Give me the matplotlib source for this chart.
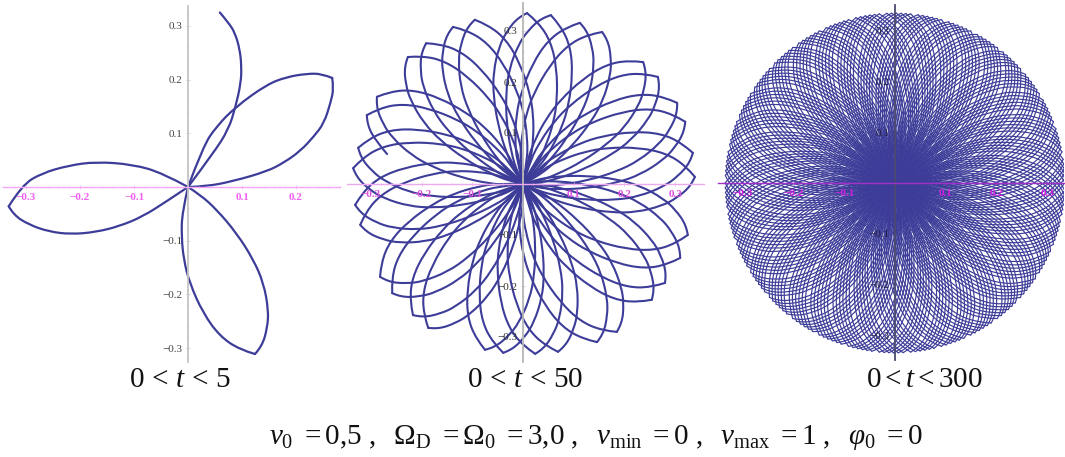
"""Three rosette trajectories (0<t<5, 0<t<50, 0<t<300) with the parameter line below."""

import numpy as np
import matplotlib
matplotlib.use("Agg")
import matplotlib.pyplot as plt
from matplotlib.path import Path
from matplotlib.patches import PathPatch

# Left panel
TOP_ARC_X = [0, 0.047, 0.075, 0.088, 0.098, 0.099, 0.096, 0.087, 0.075, 0.059]
TOP_ARC_Y = [0, 0.063, 0.107, 0.149, 0.194, 0.225, 0.256, 0.287, 0.306, 0.325]
RIGHT_LOBE_X = [0, 0.028, 0.053, 0.088, 0.146, 0.183, 0.22, 0.248, 0.267, 0.27, 0.264,
                0.252, 0.233, 0.208, 0.177, 0.146, 0.084, 0.034, 0]
RIGHT_LOBE_Y = [0, 0.076, 0.113, 0.149, 0.191, 0.205, 0.211, 0.211, 0.203, 0.184, 0.157,
                0.119, 0.094, 0.067, 0.045, 0.029, 0.011, 0.001, 0]
RIGHT_LOBE_TIP = 8
LEFT_LOBE_X = [0, -0.047, -0.102, -0.171, -0.221, -0.27, -0.307, -0.332, -0.323, -0.295,
               -0.258, -0.217, -0.171, -0.127, -0.084, -0.04, 0]
LEFT_LOBE_Y = [0, 0.026, 0.042, 0.047, 0.04, 0.026, 0.004, -0.036, -0.052, -0.07,
               -0.083, -0.088, -0.084, -0.073, -0.055, -0.027, 0]
LEFT_LOBE_TIP = 7
# bottom lobe: also the petal shape reused for the other two panels
PETAL_X = [0, -0.011, -0.012, -0.008, 0.003, 0.028, 0.059, 0.096, 0.124, 0.137, 0.147,
           0.149, 0.14, 0.121, 0.09, 0.053, 0.022, 0]
PETAL_Y = [0, -0.048, -0.092, -0.135, -0.179, -0.235, -0.278, -0.303, -0.311, -0.297,
           -0.262, -0.229, -0.179, -0.135, -0.086, -0.042, -0.014, 0]
PETAL_TIP = 8

# Middle panel, petal tips going clockwise from the top
TIP_X = [0.008, 0.055, 0.112, 0.156, 0.237, 0.266, 0.304, 0.32, 0.335, 0.339,
         0.325, 0.31, 0.28, 0.254, 0.185, 0.146, 0.069, 0.024, -0.039, -0.075,
         -0.187, -0.217, -0.258, -0.282, -0.321, -0.331, -0.335, -0.325, -0.308,
         -0.288, -0.227, -0.191, -0.138, -0.095]
TIP_Y = [0.335, 0.331, 0.316, 0.298, 0.239, 0.21, 0.159, 0.122, 0.061, 0.014,
         -0.1, -0.145, -0.194, -0.227, -0.29, -0.31, -0.329, -0.333, -0.331, -0.325,
         -0.282, -0.257, -0.214, -0.182, -0.08, -0.041, 0.031, 0.071, 0.135,
         0.171, 0.249, 0.276, 0.308, 0.322]
# petals in the upper right have their round side clockwise of the tip
TIP_MIRRORED = [0, 0, 1, 1, 1, 1, 1, 1, 1, 1, 0, 0, 0, 0, 0, 0, 0, 0, 0, 0,
                0, 0, 0, 0, 0, 0, 0, 0, 0, 0, 0, 0, 0, 0]
CURVE_END_TIP = 28  # the t=50 curve stops just after this tip

# Right panel: the picture repeats one cluster of petals around the disc
RIGHT_CLUSTER_DEG = [0, 1.6, 3.2, 4.8, 6.4, 8.0]
RIGHT_CLUSTER_COUNT = 34
RIGHT_RADIUS = 0.335

X_TICKS = [-0.3, -0.2, -0.1, 0.1, 0.2, 0.3]
Y_TICKS = [-0.3, -0.2, -0.1, 0.1, 0.2, 0.3]
CAPTIONS = [r"$0\,<\,t\,<\,5$", r"$0\,<\,t\,<\,50$", r"$0<t<300$"]
PARAMS = (r"$v_0\ =0{,}5\ ,\ \ \Omega_{\mathrm{D}}\ =\Omega_0\ =3{,}0\ ,\ \ v_{\mathrm{min}}\ =0\ ,\ \ "
          r"v_{\mathrm{max}}\ =1\ ,\ \ \varphi_0\ =0$")

LINE = "#3d3d99"
W, H = 1065, 457

plt.rcParams.update({
    "font.family": "Liberation Serif",
    "mathtext.fontset": "custom",
    "mathtext.rm": "Liberation Serif",
    "mathtext.it": "Liberation Serif:italic",
    "mathtext.bf": "Liberation Serif:bold",
    "axes.unicode_minus": True,
})


def smooth(xs, ys):
    """Quadratic pieces through the read points (midpoint rule), no new data."""
    pts = np.column_stack([xs, ys])
    verts = [pts[0]]
    codes = [Path.MOVETO]
    for i in range(1, len(pts) - 1):
        end = (pts[i] + pts[i + 1]) / 2 if i < len(pts) - 2 else pts[i + 1]
        verts += [pts[i], end]
        codes += [Path.CURVE3, Path.CURVE3]
    return Path(verts, codes)


def add_curve(ax, xs, ys, lw, tip=None):
    """Draw a lobe; the tip stays a sharp corner, so each side is smoothed alone."""
    parts = [(xs, ys)] if tip is None else [(xs[:tip + 1], ys[:tip + 1]), (xs[tip:], ys[tip:])]
    for px, py in parts:
        ax.add_patch(PathPatch(smooth(px, py), fill=False, edgecolor=LINE, linewidth=lw,
                               zorder=1, capstyle="round", joinstyle="round"))


def add_petal(ax, radius, angle, lw, mirrored=False, stop=None):
    """The read petal shape, scaled and turned so its tip lands at (radius, angle)."""
    px = np.array(PETAL_X)
    py = np.array(PETAL_Y)
    base = np.arctan2(py[PETAL_TIP], px[PETAL_TIP])
    x0 = px * np.cos(-base) - py * np.sin(-base)
    y0 = px * np.sin(-base) + py * np.cos(-base)
    if mirrored:
        y0 = -y0
    scale = radius / np.hypot(px[PETAL_TIP], py[PETAL_TIP])
    x1 = scale * (x0 * np.cos(angle) - y0 * np.sin(angle))
    y1 = scale * (x0 * np.sin(angle) + y0 * np.cos(angle))
    add_curve(ax, x1[:stop], y1[:stop], lw, tip=PETAL_TIP)


def panel(fig, left, right, top, bottom, ox, oy, sx, sy, xcol, ycol, xlab, ylab):
    """Axes placed by pixel box, with origin (ox, oy) and px-per-unit scales."""
    ax = fig.add_axes([left / W, 1 - bottom / H, (right - left) / W, (bottom - top) / H])
    ax.patch.set_visible(False)
    ax.spines["top"].set_visible(False)
    ax.spines["right"].set_visible(False)
    ax.spines["bottom"].set_position("zero")
    ax.spines["left"].set_position("zero")
    ax.spines["bottom"].set_color(xcol)
    ax.spines["left"].set_color(ycol)
    ax.spines["bottom"].set_linewidth(1.0)
    ax.spines["left"].set_linewidth(1.3)
    ax.set_xticks(X_TICKS)
    ax.set_yticks(Y_TICKS)
    ax.set_xticks([v / 100 for v in range(-32, 33, 2) if v % 10], minor=True)
    ax.set_yticks([v / 100 for v in range(-32, 33, 2) if v % 10], minor=True)
    ax.set_xticklabels([f"{v:.1f}".replace("-", "\u2212") for v in X_TICKS],
                       color=xlab, fontsize=8, fontweight="bold")
    ax.set_yticklabels([f"{v:.1f}".replace("-", "\u2212") for v in Y_TICKS],
                       color=ylab, fontsize=8)
    ax.tick_params(axis="x", which="major", length=2.5, width=0.5, color=xcol, direction="inout", pad=3)
    ax.tick_params(axis="x", which="minor", length=1.5, width=0.4, color=xcol, direction="inout")
    ax.tick_params(axis="y", which="major", length=2.5, width=0.5, color=ycol, direction="inout", pad=3)
    ax.tick_params(axis="y", which="minor", length=1.5, width=0.4, color=ycol, direction="inout")
    # limits last: set_xticks would otherwise widen them
    ax.set_xlim((left - ox) / sx, (right - ox) / sx)
    ax.set_ylim((oy - bottom) / sy, (oy - top) / sy)
    return ax


def main():
    fig = plt.figure(figsize=(W / 100, H / 100), dpi=100, facecolor="white")

    ax = panel(fig, 3, 340, 6, 362, 188, 187, 540, 537, "#f6a6f6", "#c4c4c4", "#f060f0", "#444444")
    add_curve(ax, TOP_ARC_X, TOP_ARC_Y, 1.6)
    add_curve(ax, RIGHT_LOBE_X, RIGHT_LOBE_Y, 1.6, tip=RIGHT_LOBE_TIP)
    add_curve(ax, LEFT_LOBE_X, LEFT_LOBE_Y, 1.6, tip=LEFT_LOBE_TIP)
    add_curve(ax, PETAL_X, PETAL_Y, 1.6, tip=PETAL_TIP)

    ax = panel(fig, 347, 704, 3, 362, 523, 184, 507, 510, "#eeaaee", "#b8b8b8", "#e050e0", "#333333")
    for i, (tx, ty) in enumerate(zip(TIP_X, TIP_Y)):
        stop = PETAL_TIP + 4 if i == CURVE_END_TIP else None
        add_petal(ax, np.hypot(tx, ty), np.arctan2(ty, tx), 1.5, TIP_MIRRORED[i], stop=stop)

    ax = panel(fig, 718, 1064, 5, 360, 895, 183, 507, 507, "#a030c8", "#4a4a70", "#d020e0", "#222244")
    for k in range(RIGHT_CLUSTER_COUNT):
        for deg in RIGHT_CLUSTER_DEG:
            add_petal(ax, RIGHT_RADIUS, np.radians(deg) + 2 * np.pi * k / RIGHT_CLUSTER_COUNT, 0.85)

    for caption, cx in zip(CAPTIONS, [180, 525, 924]):
        fig.text(cx / W, 1 - 380 / H, caption, fontsize=21, ha="center", va="center", color="#111111")
    fig.text(596 / W, 1 - 437 / H, PARAMS, fontsize=21, ha="center", va="center", color="#111111")

    fig.savefig("out.png", dpi=100)
    plt.close(fig)


if __name__ == "__main__":
    main()
